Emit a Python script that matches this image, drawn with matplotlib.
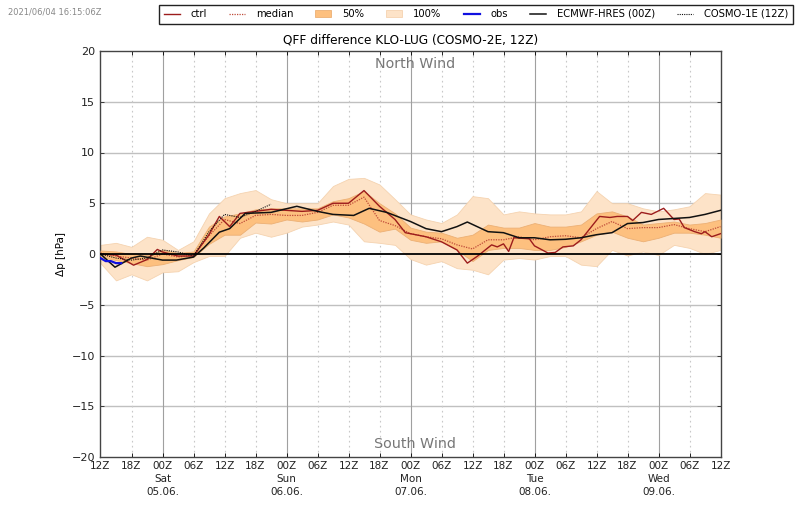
import matplotlib
matplotlib.use("Agg")
import matplotlib.pyplot as plt

W, H = 800, 509
hours = list(range(0, 121, 3))
p100_hi = [0.9,1.1,0.7,1.7,1.4,0.4,1.25,4.0,5.5,6.0,6.3,5.4,5.0,5.0,5.0,6.7,7.4,7.5,6.85,5.4,3.9,3.4,3.05,3.9,5.7,5.5,3.9,4.2,4.0,3.9,3.9,4.2,6.2,5.0,5.0,4.5,4.2,4.4,4.7,6.0,5.85]
p100_lo = [-0.9,-2.6,-2.0,-2.6,-1.8,-1.7,-0.8,-0.2,-0.2,1.6,2.1,1.7,2.1,2.7,2.9,3.2,2.9,1.25,1.1,0.9,-0.5,-1.05,-0.7,-1.4,-1.55,-2.0,-0.55,-0.4,-0.55,-0.2,-0.2,-1.05,-1.2,0.4,-0.15,0.25,-0.1,0.9,0.6,0.0,0.4]
p50_hi = [0.35,0.25,0.0,-0.1,0.4,0.1,0.25,2.7,3.7,4.0,4.4,4.5,4.5,4.5,4.5,5.2,5.5,6.2,5.0,4.0,2.6,2.2,2.1,1.6,1.9,2.9,2.6,2.6,3.05,2.7,2.7,2.9,4.0,4.2,3.7,2.9,3.05,3.2,2.9,3.05,3.4]
p50_lo = [-0.3,-0.6,-0.9,-1.2,-1.0,-0.6,-0.3,1.0,1.9,1.9,3.1,3.0,3.4,3.2,3.4,3.9,3.6,3.0,2.2,2.5,1.4,1.1,1.25,0.4,-0.7,0.4,0.6,0.6,0.4,0.4,0.7,1.25,1.9,2.2,1.6,1.25,1.6,2.1,2.1,1.9,1.6]
median = [0.1,-0.2,-0.4,-0.6,0.0,-0.3,-0.1,1.8,3.4,3.0,3.8,3.9,3.8,3.8,4.1,4.8,4.8,5.6,3.3,2.8,2.0,1.7,1.5,0.9,0.5,1.4,1.4,1.7,1.4,1.7,1.8,1.6,2.5,3.2,2.5,2.6,2.6,2.9,2.5,2.2,2.7]
ctrl_h = [0,3,6.4,9,11,12,15,18,21,23,25,27,30,33,36,39,42,45,48,51,54,57,59,60,63,66,69,71,73,75.7,76.8,78,79,80,83,84,86.6,88,89.5,91.5,93,96.6,98.6,100,102,103,104.7,106.6,109,111,112,113,115,116.3,117,118.3,120]
ctrl = [0.0,-0.1,-1.1,-0.55,0.45,0.2,-0.2,-0.2,1.9,3.7,2.7,4.0,4.2,4.4,4.3,4.2,4.3,5.0,5.0,6.25,4.7,3.4,2.1,2.0,1.7,1.2,0.4,-0.9,-0.2,0.9,0.7,1.0,0.25,1.6,1.5,0.8,0.1,0.15,0.7,0.8,1.4,3.7,3.6,3.7,3.7,3.3,4.1,3.9,4.5,3.4,3.45,2.6,2.2,2.0,2.2,1.7,2.0]
ecmwf_h = [0,2.8,6,7.7,12,14.7,18,20,23,25,28,33,38,42,45,49,52,55.4,60,63,66,69,71,75,78,81,84,87,90,93,96,99,102,105,108,111,114,117,120]
ecmwf = [0.0,-1.3,-0.4,-0.2,-0.6,-0.6,-0.3,0.6,2.15,2.5,4.0,4.1,4.7,4.2,3.9,3.8,4.5,4.1,3.2,2.5,2.2,2.7,3.15,2.2,2.1,1.6,1.6,1.4,1.45,1.6,1.9,2.1,3.0,3.1,3.4,3.5,3.6,3.9,4.3]
cosmo1_h = list(range(0, 34, 3))
cosmo1 = [0.0,-0.4,-0.6,-0.4,0.4,0.2,-0.2,2.2,3.9,3.6,4.2,4.9]
obs_h = [0,1,2,3,4]
obs = [-0.4,-0.7,-0.7,-0.9,-0.9]
xtick_h = list(range(0, 121, 6))
day_labels = {12: "Sat\n05.06.", 36: "Sun\n06.06.", 60: "Mon\n07.06.", 84: "Tue\n08.06.", 108: "Wed\n09.06."}
clock = ["12Z", "18Z", "00Z", "06Z"]

fig = plt.figure(figsize=(W/100, H/100), dpi=100)
ax = fig.add_axes([100.5/W, 1-457/H, 620/W, 406/H])
ax.set_xlim(0, 120)
ax.set_ylim(-20, 20)

f100 = ax.fill_between(hours, p100_lo, p100_hi, facecolor="#fde3c8", edgecolor="#f5d3b0", lw=0.6, zorder=2, label="100%")
f50 = ax.fill_between(hours, p50_lo, p50_hi, facecolor="#fdc07f", edgecolor="#ecb075", lw=0.6, zorder=3, label="50%")
l_med, = ax.plot(hours, median, color="#bf4a38", lw=0.9, ls=(0, (1, 1)), zorder=4, label="median")
l_ctrl, = ax.plot(ctrl_h, ctrl, color="#9c1c1c", lw=1.0, zorder=5, label="ctrl")
l_ec, = ax.plot(ecmwf_h, ecmwf, color="#111111", lw=1.1, zorder=6, label="ECMWF-HRES (00Z)")
l_c1, = ax.plot(cosmo1_h, cosmo1, color="#111111", lw=0.8, ls=(0, (1, 1)), zorder=6, label="COSMO-1E (12Z)")
l_obs, = ax.plot(obs_h, obs, color="#1010e0", lw=1.6, zorder=7, label="obs")
ax.axhline(0, color="black", lw=1.3, zorder=8)

for y in [-15, -10, -5, 5, 10, 15]:
    ax.axhline(y, color="#c0c0c0", lw=1.0, zorder=1)
for h in xtick_h:
    if (h - 12) % 24 == 0:
        ax.axvline(h, color="#a0a0a0", lw=0.8, zorder=1)
    elif h not in (0, 120):
        ax.axvline(h, color="#c8c8c8", lw=0.8, ls=(0, (1.5, 3)), zorder=1)

labels = []
for h in xtick_h:
    s = clock[(h // 6) % 4]
    if h in day_labels:
        s += "\n" + day_labels[h]
    labels.append(s)
ax.set_xticks(xtick_h)
ax.set_xticklabels(labels, fontsize=7.5, color="#222222", linespacing=1.38)
ax.set_yticks(range(-20, 21, 5))
ax.tick_params(axis="y", labelsize=8, length=3, width=0.6, direction="in", left=True, right=True, pad=4, colors="#222222")
ax.tick_params(axis="x", length=3, width=0.6, direction="in", top=True, pad=3)
for sp in ax.spines.values():
    sp.set_color("#444444")
    sp.set_linewidth(1.0)
ax.set_ylabel("Δp [hPa]", fontsize=7.5, labelpad=4)
ax.set_title("QFF difference KLO-LUG (COSMO-2E, 12Z)", fontsize=8.7, pad=5.5)
ax.text(60.8, 18.7, "North Wind", ha="center", va="center", fontsize=10.3, color="#777777", zorder=9)
ax.text(60.8, -18.7, "South Wind", ha="center", va="center", fontsize=10.3, color="#777777", zorder=9)
fig.text(8/W, 1-12/H, "2021/06/04 16:15:06Z", fontsize=6, color="#888888", va="center")

fig.legend(handles=[l_ctrl, l_med, f50, f100, l_obs, l_ec, l_c1],
           labels=["ctrl", "median", "50%", "100%", "obs", "ECMWF-HRES (00Z)", "COSMO-1E (12Z)"],
           ncol=7, loc="upper left", bbox_to_anchor=(159/W, 1-4.5/H), borderaxespad=0,
           fontsize=7.2, frameon=True, fancybox=False, edgecolor="#222222", framealpha=1,
           handlelength=1.6, handletextpad=1.1, columnspacing=2.2, borderpad=0.45)
fig.savefig("out.png", dpi=100)
